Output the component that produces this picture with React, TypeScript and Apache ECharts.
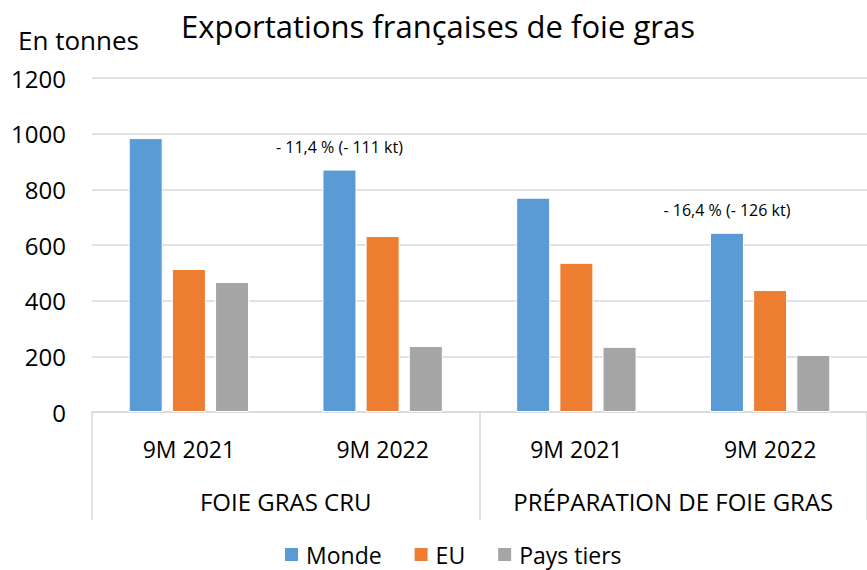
import React, { useEffect, useRef } from "react";
import * as echarts from "echarts";

const periods = ["9M 2021", "9M 2022", "9M 2021", "9M 2022"];
const groups = ["FOIE GRAS CRU", "PRÉPARATION DE FOIE GRAS"];
const monde = [984, 871, 770, 644];
const eu = [514, 632, 536, 438];
const paysTiers = [467, 237, 234, 205];
const annotations = ["", "- 11,4 % (- 111 kt)", "", "- 16,4 % (- 126 kt)"];
const yTicks = { min: 0, max: 1200, interval: 200 };

const FONT = "'Open Sans', Lato, sans-serif";

export default function App() {
  const ref = useRef<HTMLDivElement>(null);
  useEffect(() => {
    if (!ref.current) return;
    const chart = echarts.init(ref.current, undefined, { renderer: "svg" });
    const barStyle = (color: string) => ({ color, borderColor: "#ffffff", borderWidth: 1 });
    chart.setOption({
      animation: false,
      textStyle: { fontFamily: FONT },
      title: [
        {
          text: "Exportations françaises de foie gras",
          left: 176,
          top: 5,
          textStyle: { fontSize: 31, fontWeight: "normal", color: "#000", fontFamily: FONT },
        },
        {
          text: "En tonnes",
          left: 13,
          top: 22,
          textStyle: { fontSize: 26, fontWeight: "normal", color: "#000", fontFamily: FONT },
        },
      ],
      legend: {
        left: 283,
        top: 543,
        padding: 0,
        icon: "rect",
        itemWidth: 15,
        itemHeight: 15,
        itemGap: 31,
        textStyle: { fontSize: 23, color: "#000", fontFamily: FONT, lineHeight: 22, padding: [0, 0, 0, 2] },
        data: ["Monde", "EU", "Pays tiers"],
      },
      grid: { left: 92, top: 78, width: 780, height: 334, containLabel: false },
      xAxis: [
        {
          type: "category",
          data: periods,
          axisLine: { show: true, lineStyle: { color: "#d9d9d9", width: 1.5 } },
          axisTick: { show: false },
          axisLabel: { fontSize: 23, color: "#000", margin: 25, interval: 0, fontFamily: FONT },
        },
        {
          type: "category",
          data: groups,
          position: "bottom",
          axisLine: { show: false },
          axisTick: { show: true, length: 108, interval: 0, lineStyle: { color: "#d9d9d9", width: 1.5 } },
          axisLabel: { fontSize: 24, color: "#000", margin: 77, interval: 0, fontFamily: FONT },
          splitLine: { show: false },
        },
      ],
      yAxis: {
        type: "value",
        min: yTicks.min,
        max: yTicks.max,
        interval: yTicks.interval,
        axisLine: { show: false },
        axisTick: { show: false },
        axisLabel: { fontSize: 24, color: "#000", margin: 26, fontFamily: FONT, formatter: (v: number) => String(v) },
        splitLine: { lineStyle: { color: "#d9d9d9", width: 1.5 } },
      },
      series: [
        {
          name: "Monde",
          type: "bar",
          barWidth: 34,
          barGap: "27%",
          itemStyle: barStyle("#5b9bd5"),
          data: monde.map((v, i) => ({
            value: v,
            label: {
              show: annotations[i] !== "",
              position: "top",
              distance: 15,
              formatter: annotations[i],
              fontSize: 16,
              color: "#000",
              fontFamily: FONT,
            },
          })),
        },
        { name: "EU", type: "bar", barWidth: 34, barGap: "27%", itemStyle: barStyle("#ed7d31"), data: eu },
        { name: "Pays tiers", type: "bar", barWidth: 34, barGap: "27%", itemStyle: barStyle("#a5a5a5"), data: paysTiers },
      ],
    });
    return () => chart.dispose();
  }, []);
  return <div ref={ref} style={{ width: 867, height: 570, position: "absolute", left: 0, top: 0, background: "#fff" }} />;
}
